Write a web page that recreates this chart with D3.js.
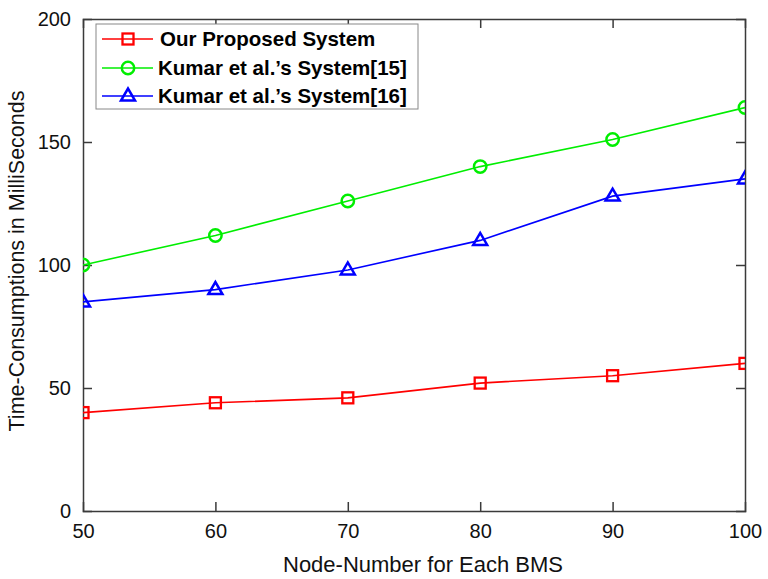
<!DOCTYPE html>
<html>
<head>
<meta charset="utf-8">
<script src="https://cdn.jsdelivr.net/npm/d3@7"></script>
<style>
  html, body { margin: 0; padding: 0; background: #fff; }
  svg { display: block; font-family: "Liberation Sans", Arial, Helvetica, sans-serif; }
</style>
</head>
<body>
<svg id="chart" width="768" height="579"></svg>
<script>
const nodeNumbers = [50, 60, 70, 80, 90, 100];
const proposedValues = [40, 44, 46, 52, 55, 60];
const kumar15Values = [100, 112, 126, 140, 151, 164];
const kumar16Values = [85, 90, 98, 110, 128, 135];
const xTickValues = [50, 60, 70, 80, 90, 100];
const yTickValues = [0, 50, 100, 150, 200];
const seriesNames = ["Our Proposed System", "Kumar et al.\u2019s System[15]", "Kumar et al.\u2019s System[16]"];
const seriesColors = ["#ff0000", "#00ee00", "#0000ff"];
const seriesMarkers = ["square", "circle", "triangle"];
const xTitle = "Node-Number for Each BMS";
const yTitle = "Time-Consumptions in MilliSeconds";

const series = [proposedValues, kumar15Values, kumar16Values].map((vals, i) => ({
  name: seriesNames[i], color: seriesColors[i], marker: seriesMarkers[i],
  points: vals.map((v, j) => ({ x: nodeNumbers[j], y: v }))
}));

const svg = d3.select("#chart");
const L = 83, R = 745, T = 19, B = 511;
const x = d3.scaleLinear().domain([50, 100]).range([L, R]);
const y = d3.scaleLinear().domain([0, 200]).range([B, T]);
const axisColor = "#3a3a3a";
const tickLen = 9;

const axG = svg.append("g");
const gB = axG.append("g").attr("transform", `translate(0,${B})`)
  .call(d3.axisBottom(x).tickValues(xTickValues).tickSize(-tickLen).tickPadding(13).tickFormat(d3.format("d")));
const gT = axG.append("g").attr("transform", `translate(0,${T})`)
  .call(d3.axisTop(x).tickValues(xTickValues).tickSize(-tickLen).tickFormat(""));
const gL = axG.append("g").attr("transform", `translate(${L},0)`)
  .call(d3.axisLeft(y).tickValues(yTickValues).tickSize(-tickLen).tickPadding(12).tickFormat(d3.format("d")));
const gR = axG.append("g").attr("transform", `translate(${R},0)`)
  .call(d3.axisRight(y).tickValues(yTickValues).tickSize(-tickLen).tickFormat(""));
axG.selectAll(".domain").attr("stroke", axisColor).attr("stroke-width", 1.5);
axG.selectAll(".tick line").attr("stroke", axisColor).attr("stroke-width", 1.5);
axG.selectAll(".tick text").attr("fill", "#111").style("font-size", "20px");
[gB, gT].forEach(g => g.selectAll(".tick line").filter(d => d === 50 || d === 100).remove());
[gL, gR].forEach(g => g.selectAll(".tick line").filter(d => d === 0 || d === 200).remove());

svg.append("text").attr("x", 423).attr("y", 572)
  .attr("text-anchor", "middle").attr("fill", "#111").style("font-size", "22px").text(xTitle);
svg.append("text").attr("transform", `translate(24,${(T + B) / 2 - 4}) rotate(-90)`)
  .attr("text-anchor", "middle").attr("fill", "#111").style("font-size", "21.5px").text(yTitle);

function drawMarker(g, type, cx, cy, color) {
  if (type === "square") {
    g.append("rect").attr("x", cx - 5.5).attr("y", cy - 5.5).attr("width", 11).attr("height", 11)
      .attr("fill", "none").attr("stroke", color).attr("stroke-width", 2.3);
  } else if (type === "circle") {
    g.append("circle").attr("cx", cx).attr("cy", cy).attr("r", 6.2)
      .attr("fill", "none").attr("stroke", color).attr("stroke-width", 2.5);
  } else {
    const tri = d3.line()([[cx - 7, cy + 4.5], [cx + 7, cy + 4.5], [cx, cy - 7.5]]) + "Z";
    g.append("path").attr("d", tri).attr("fill", "none").attr("stroke", color).attr("stroke-width", 2.5);
  }
}

const clip = svg.append("clipPath").attr("id", "plotclip");
clip.append("rect").attr("x", L).attr("y", T).attr("width", R - L).attr("height", B - T);

const line = d3.line().x(d => x(d.x)).y(d => y(d.y));
const plot = svg.append("g").attr("clip-path", "url(#plotclip)");
series.forEach(s => {
  plot.append("path").datum(s.points).attr("d", line)
    .attr("fill", "none").attr("stroke", s.color).attr("stroke-width", 1.6);
  const mg = plot.append("g");
  s.points.forEach(p => drawMarker(mg, s.marker, x(p.x), y(p.y), s.color));
});

const lg = svg.append("g");
lg.append("rect").attr("x", 96).attr("y", 24).attr("width", 322).attr("height", 85)
  .attr("fill", "#fff").attr("stroke", "#888").attr("stroke-width", 1);
const rowY = [39, 68, 96];
const textX = [160, 158, 158];
series.forEach((s, i) => {
  lg.append("line").attr("x1", 102).attr("x2", 153).attr("y1", rowY[i]).attr("y2", rowY[i])
    .attr("stroke", s.color).attr("stroke-width", 1.3);
  drawMarker(lg, s.marker, 128, rowY[i], s.color);
  lg.append("text").attr("x", textX[i]).attr("y", rowY[i] + 7).attr("fill", "#000")
    .style("font-size", "20.5px").style("font-weight", "bold").text(s.name);
});
</script>
</body>
</html>
